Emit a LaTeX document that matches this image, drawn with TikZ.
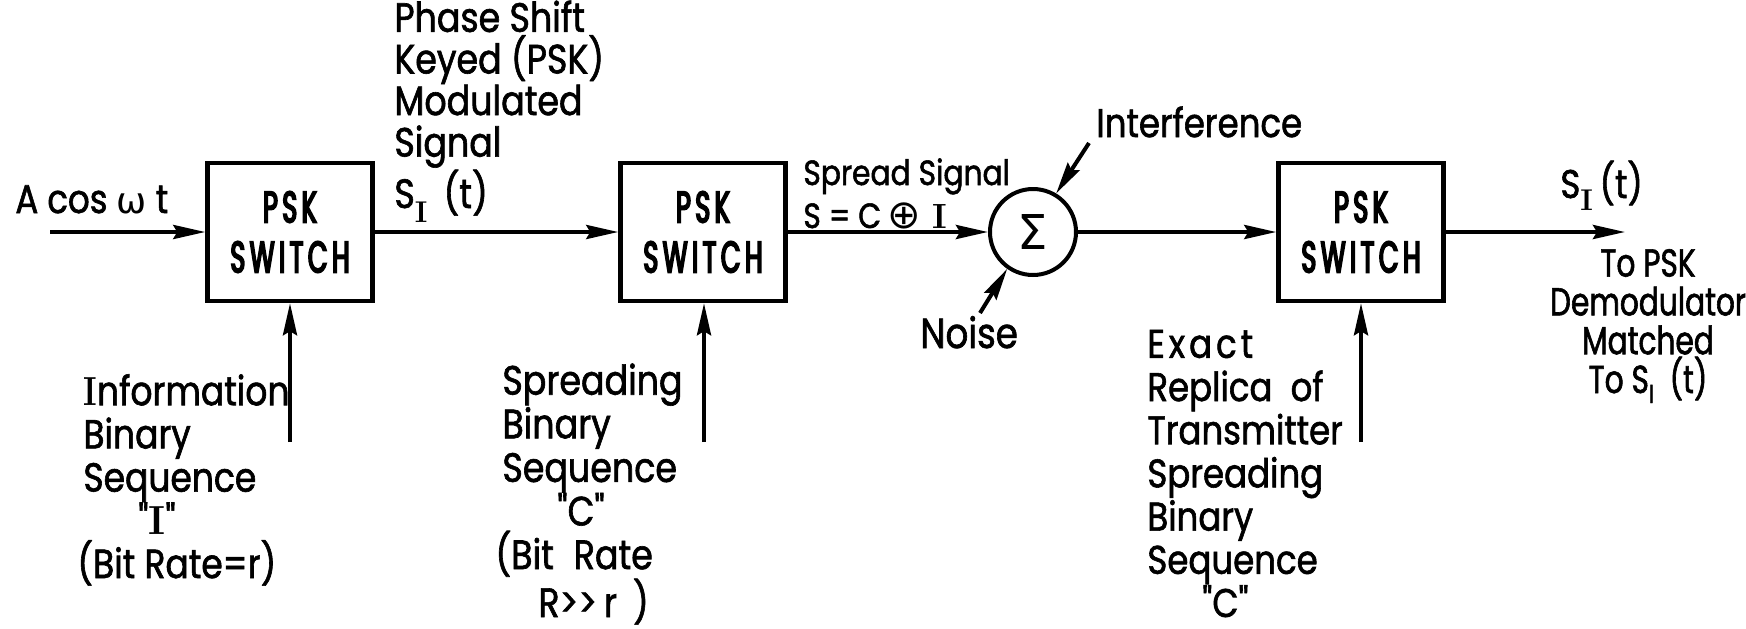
\documentclass[tikz,border=0pt]{standalone}
\usepackage{fontspec}
\usepackage{graphicx}
\newfontfamily\lett{Poppins}[FakeStretch=0.85, FakeBold=1.5]
\newfontfamily\lettn{Poppins}[FakeStretch=0.76, FakeBold=1.5]
\newfontfamily\boxf{Poppins}[FakeStretch=0.58, LetterSpace=10, FakeBold=4]
\newfontfamily\symf{DejaVu Sans}
\usetikzlibrary{arrows.meta}
\newcommand\serI[1][-7pt]{\raisebox{#1}{\fontsize{15}{15}\selectfont\rmfamily\bfseries I}}
\newcommand\sanI{\raisebox{-5pt}{\fontsize{13}{13}\selectfont I}}
\newcommand\rI{{\rmfamily\bfseries I}}
\newcommand\rIn{\scalebox{0.8}[1]{\rmfamily\bfseries I}}
\begin{document}
\begin{tikzpicture}[x=0.5pt,y=-0.5pt,
  lab/.style={inner sep=0pt, font=\lett\fontsize{21}{21.7}\selectfont, align=left},
  box/.style={draw, line width=2.2pt, minimum width=82.5pt, minimum height=69pt, inner sep=0pt, align=center,
    font=\boxf\fontsize{22}{25}\selectfont},
  sumc/.style={circle, draw, line width=2pt, minimum size=43pt, inner sep=0pt, font=\symf\fontsize{24}{24}\selectfont},
  arr/.style={line width=2pt, -{Stealth[length=16pt,width=7pt,inset=2pt]}}]
\useasboundingbox (0,0) rectangle (1746,628);

% blocks
\node[box] (b1) at (290,232) {PSK\\SWITCH};
\node[box] (b2) at (703,232) {PSK\\SWITCH};
\node[box] (b3) at (1361,232) {PSK\\SWITCH};
\node[sumc] (sig) at (1033,232) {Σ};

% labels (base anchor = baseline of the last line)
\node[lab, anchor=base west, font=\lett\fontsize{20}{20}\selectfont] (acos) at (15,213) {A cos {\symf\fontsize{18}{18}\selectfont ω} t};
\node[lab, anchor=base west, font=\lett\fontsize{20.5}{20.8}\selectfont] (phase) at (394,208) {Phase Shift\\Keyed (PSK)\\Modulated\\Signal\\S\serI\ \,(t)};
\node[lab, anchor=base west, font=\lett\fontsize{17.5}{21.5}\selectfont] (spread) at (803,228) {Spread Signal\\S = C\,{\symf\fontsize{20}{20}\selectfont ⊕}\,\,\rI};
\node[lab, anchor=base west, font=\lett\fontsize{20}{20}\selectfont] (intf) at (1096,137) {Interference};
\node[lab, anchor=base west] (noise) at (920,348) {Noise};
\node[lab, anchor=base west, font=\lett\fontsize{20}{20}\selectfont] (sout) at (1560,198) {S\serI[-6pt]\,(t)};
\node[lab, anchor=base, align=center, font=\lettn\fontsize{19.5}{19.4}\selectfont] (demod) at (1648,393) {To PSK\\Demodulator\\Matched\\To S\sanI\ \ (t)};
\node[lab, anchor=base west, font=\lett\fontsize{20.3}{21.6}\selectfont] (info) at (83,578) {\rIn nformation\\Binary\\Sequence\\\hspace*{27.5pt}"\rI"\\\hspace*{-3pt}(Bit Rate=r)};
\node[lab, anchor=base west, font=\lett\fontsize{20.5}{21.8}\selectfont] (sprd) at (502,617) {Spreading\\Binary\\Sequence\\\hspace*{27.5pt}"C"\\\hspace*{-3.5pt}(Bit\hspace{10pt}Rate\\\hspace*{18pt}R>>\,r\hspace{8pt})};
\node[lab, anchor=base west, font=\lett\fontsize{20}{21.6}\selectfont] (exact) at (1147,617) {{\addfontfeature{LetterSpace=10}Exact}\\Replica\ \ of\\Transmitter\\Spreading\\Binary\\Sequence\\\hspace*{27.5pt}"C"};

% free ends
\coordinate (in) at (50,232);
\coordinate (out) at (1625,232);
\coordinate (ia) at (1089,143);
\coordinate (na) at (980,313);
\coordinate (c1) at (290,442);
\coordinate (c2) at (704,442);
\coordinate (c3) at (1361,442);

% connectors
\draw[arr] (in) -- (b1.west);
\draw[arr] (b1) -- (b2);
\draw[arr] (b2) -- (sig);
\draw[arr] (sig) -- (b3);
\draw[arr] (b3) -- (out);
\draw[arr] (ia) -- (sig.59);
\draw[arr] (na) -- (sig.235);
\draw[arr] (c1) -- (b1.south);
\draw[arr] (c2) -- (c2 |- b2.south);
\draw[arr] (c3) -- (b3.south);
\end{tikzpicture}
\end{document}
